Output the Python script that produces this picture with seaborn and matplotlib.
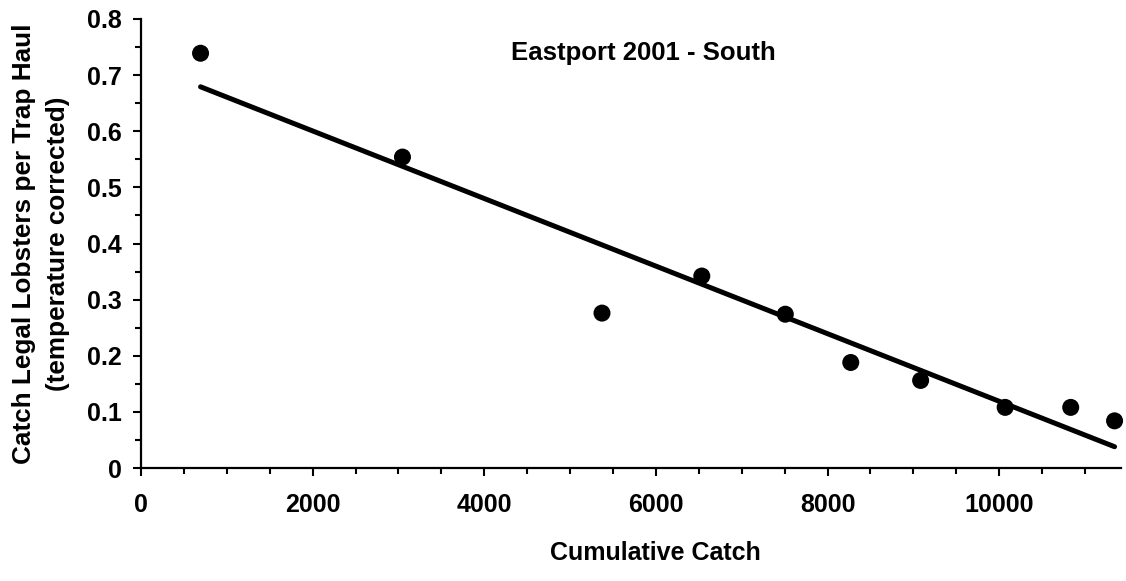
import matplotlib
matplotlib.use("Agg")
import matplotlib.pyplot as plt
from matplotlib.ticker import MultipleLocator
import seaborn as sns
import pandas as pd

# Data
cumulative_catch = [694, 3047, 5372, 6535, 7508, 8271, 9085, 10070, 10834, 11345]
catch_per_haul = [0.739, 0.554, 0.276, 0.342, 0.274, 0.188, 0.156, 0.108, 0.108, 0.084]
title_text = "Eastport 2001 - South"
x_label = "Cumulative Catch"
y_label = "Catch Legal Lobsters per Trap Haul\n(temperature corrected)"

df = pd.DataFrame({"x": cumulative_catch, "y": catch_per_haul})

sns.set_theme(style="ticks")
plt.rcParams["font.family"] = ["Liberation Sans", "DejaVu Sans"]
plt.rcParams["font.weight"] = "bold"

W, H = 1126, 581
fig = plt.figure(figsize=(W / 100, H / 100), dpi=100)
left, right, top, bottom = 141, 1121, 19, 468
ax = fig.add_axes([left / W, (H - bottom) / H, (right - left) / W, (bottom - top) / H])

sns.regplot(data=df, x="x", y="y", ax=ax, ci=None, truncate=True,
            scatter_kws=dict(s=150, color="black", alpha=1, edgecolor="none", zorder=3, clip_on=False),
            line_kws=dict(color="black", lw=3.6, solid_capstyle="round"))

ax.set_xlim(0, 11420)
ax.set_ylim(0, 0.8)
ax.xaxis.set_major_locator(MultipleLocator(2000))
ax.xaxis.set_minor_locator(MultipleLocator(500))
ax.yaxis.set_major_locator(MultipleLocator(0.1))
ax.yaxis.set_minor_locator(MultipleLocator(0.05))
ax.xaxis.set_major_formatter(plt.FuncFormatter(lambda v, p: f"{int(round(v))}"))
ax.yaxis.set_major_formatter(plt.FuncFormatter(lambda v, p: "0" if abs(v) < 1e-9 else f"{v:.1f}"))

for s in ["top", "right"]:
    ax.spines[s].set_visible(False)
for s in ["left", "bottom"]:
    ax.spines[s].set_linewidth(1.6)
    ax.spines[s].set_color("black")

ax.tick_params(axis="both", which="major", direction="out", length=6, width=1.5,
               color="black", labelsize=18, labelcolor="black")
ax.tick_params(axis="both", which="minor", direction="out", length=4, width=1.5, color="black")
ax.tick_params(axis="x", which="major", pad=12)
ax.tick_params(axis="y", which="major", pad=8)
for lab in ax.get_xticklabels() + ax.get_yticklabels():
    lab.set_fontweight("bold")

ax.set_xlabel(x_label, fontsize=18, fontweight="bold", color="black")
ax.xaxis.set_label_coords((655 - left) / (right - left), -(553 - bottom) / (bottom - top))
ax.xaxis.label.set_verticalalignment("center")

ax.set_ylabel(y_label, fontsize=18.8, fontweight="bold", color="black", linespacing=1.55)
ax.yaxis.set_label_coords((41 - left) / (right - left), 0.5)
ax.yaxis.label.set_verticalalignment("center")

ax.text((643 - left) / (right - left), (bottom - 53) / (bottom - top), title_text,
        transform=ax.transAxes, ha="center", va="center", fontsize=18.5,
        fontweight="bold", color="black")

ax.set_facecolor("white")
fig.patch.set_facecolor("white")
fig.savefig("out.png", dpi=100, facecolor="white")
